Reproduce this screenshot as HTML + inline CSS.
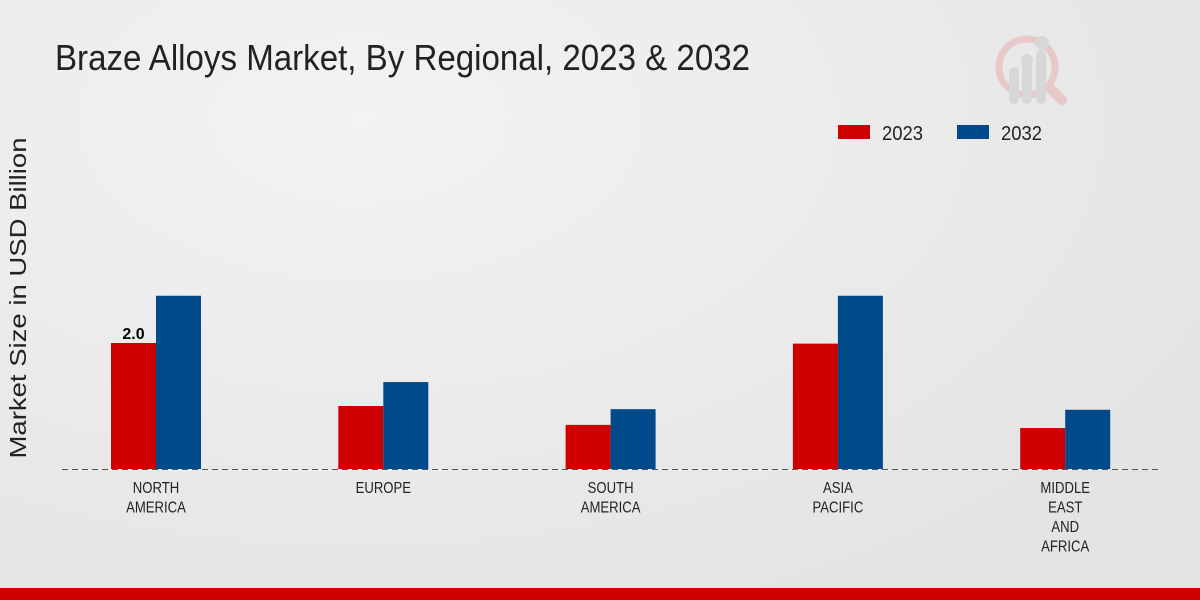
<!DOCTYPE html>
<html><head><meta charset="utf-8"><style>
body{margin:0;width:1200px;height:600px;overflow:hidden;background:radial-gradient(ellipse at 30% 20%,#f3f3f3,#e4e4e4 80%);font-family:"Liberation Sans",sans-serif;}
svg{position:absolute;left:0;top:0}
</style></head><body>
<svg width="1200" height="600">
<text x="55" y="70" font-size="36" fill="#222" textLength="695" lengthAdjust="spacingAndGlyphs">Braze Alloys Market, By Regional, 2023 &amp; 2032</text>
<g opacity="0.6">
<circle cx="1027" cy="67" r="28" fill="none" stroke="#e8b5b5" stroke-width="7"/>
<line x1="1050" y1="88" x2="1062" y2="100" stroke="#e8b5b5" stroke-width="10" stroke-linecap="round"/>
<rect x="1009" y="72" width="10" height="32" rx="5" fill="#ccc"/><rect x="1022" y="60" width="10" height="44" rx="5" fill="#ccc"/><rect x="1036" y="50" width="10" height="54" rx="5" fill="#ccc"/>
<circle cx="1014" cy="72" r="5" fill="#ccc"/><circle cx="1027" cy="60" r="6" fill="#ccc"/><circle cx="1042" cy="43" r="7" fill="#ccc"/>
</g>
<text transform="translate(26,298) rotate(-90)" text-anchor="middle" font-size="23" fill="#222" textLength="321" lengthAdjust="spacingAndGlyphs">Market Size in USD Billion</text>
<g>
<rect x="838" y="125" width="32" height="14" fill="#cc0000"/>
<text x="882" y="140" font-size="20" fill="#222" textLength="41" lengthAdjust="spacingAndGlyphs">2023</text>
<rect x="957" y="125" width="32" height="14" fill="#004a8c"/>
<text x="1001" y="140" font-size="20" fill="#222" textLength="41" lengthAdjust="spacingAndGlyphs">2032</text>
</g>
<g id="plot"></g>
<line x1="62" y1="469.5" x2="1160" y2="469.5" stroke="#555" stroke-dasharray="6,4"/>
<rect x="0" y="588" width="1200" height="12" fill="#cc0000"/>
</svg>
<script>
const categories=[["NORTH","AMERICA"],["EUROPE"],["SOUTH","AMERICA"],["ASIA","PACIFIC"],["MIDDLE","EAST","AND","AFRICA"]];
const values2023=[2.0,1.0,0.7,1.99,0.65];
const values2032=[2.75,1.38,0.95,2.75,0.94];
const labels2023=["2.0","","","",""];
const base=469,scale=63,x0=156,step=227.3,bw=45;
const y=v=>base-v*scale, xc=i=>x0+i*step;
const g=document.getElementById('plot');const ns="http://www.w3.org/2000/svg";
categories.forEach((c,i)=>{
 [[values2023,"#cc0000",-bw,"2023"],[values2032,"#004a8c",0,"2032"]].forEach(([arr,col,off,s])=>{
  const r=document.createElementNS(ns,'rect');
  r.setAttribute('x',xc(i)+off);r.setAttribute('y',y(arr[i]));r.setAttribute('width',bw);r.setAttribute('height',arr[i]*scale);r.setAttribute('fill',col);
  
  
  g.appendChild(r);});
 if(labels2023[i]){const t=document.createElementNS(ns,'text');t.setAttribute('x',xc(i)-bw/2);t.setAttribute('y',y(values2023[i])-4);t.setAttribute('text-anchor','middle');t.setAttribute('font-size','16');t.setAttribute('font-weight','bold');t.textContent=labels2023[i];
  
  
  g.appendChild(t);}
 c.forEach((line,k)=>{const t=document.createElementNS(ns,'text');t.setAttribute('transform','translate('+xc(i)+','+(493+k*19.5)+') scale(0.82,1)');t.setAttribute('text-anchor','middle');t.setAttribute('font-size','16');t.setAttribute('fill','#222');t.textContent=line;
  
  
  g.appendChild(t);});
});
</script>
</body></html>
